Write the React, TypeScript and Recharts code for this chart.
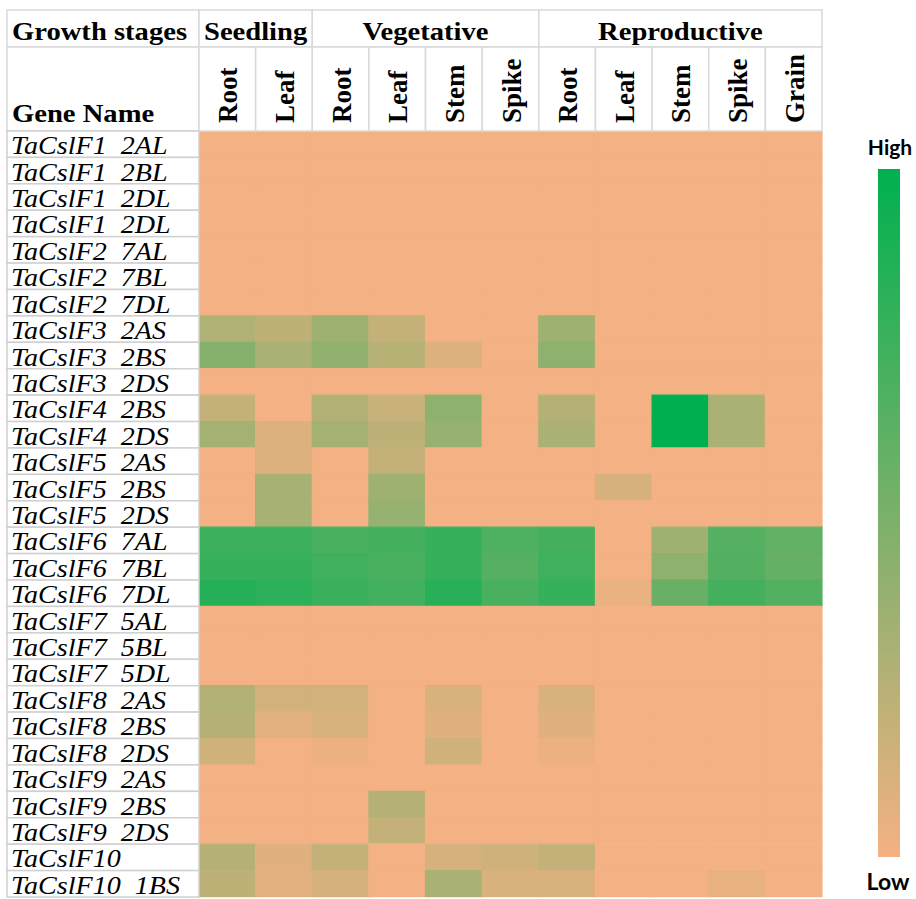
import { BarChart, Bar, XAxis, YAxis, Cell } from 'recharts';

// tissue columns, grouped by growth stage
const tissues = ['Root', 'Leaf', 'Root', 'Leaf', 'Stem', 'Spike', 'Root', 'Leaf', 'Stem', 'Spike', 'Grain'];
const stageNames = ['Seedling', 'Vegetative', 'Reproductive'];
const stageSpans = [2, 4, 5];

const genes = [
  'TaCslF1  2AL', 'TaCslF1  2BL', 'TaCslF1  2DL', 'TaCslF1  2DL',
  'TaCslF2  7AL', 'TaCslF2  7BL', 'TaCslF2  7DL',
  'TaCslF3  2AS', 'TaCslF3  2BS', 'TaCslF3  2DS',
  'TaCslF4  2BS', 'TaCslF4  2DS',
  'TaCslF5  2AS', 'TaCslF5  2BS', 'TaCslF5  2DS',
  'TaCslF6  7AL', 'TaCslF6  7BL', 'TaCslF6  7DL',
  'TaCslF7  5AL', 'TaCslF7  5BL', 'TaCslF7  5DL',
  'TaCslF8  2AS', 'TaCslF8  2BS', 'TaCslF8  2DS',
  'TaCslF9  2AS', 'TaCslF9  2BS', 'TaCslF9  2DS',
  'TaCslF10', 'TaCslF10  1BS',
];

// relative expression 0 (low) .. 1 (high), one row per gene
const expression = [
  [0, 0, 0, 0, 0, 0, 0, 0, 0, 0, 0],
  [0, 0, 0, 0, 0, 0, 0, 0, 0, 0, 0],
  [0, 0, 0, 0, 0, 0, 0, 0, 0, 0, 0],
  [0, 0, 0, 0, 0, 0, 0, 0, 0, 0, 0],
  [0, 0, 0, 0, 0, 0, 0, 0, 0, 0, 0],
  [0, 0, 0, 0, 0, 0, 0, 0, 0, 0, 0],
  [0, 0, 0, 0, 0, 0, 0, 0, 0, 0, 0],
  [0.28, 0.22, 0.35, 0.2, 0, 0, 0.35, 0, 0, 0, 0],
  [0.45, 0.3, 0.4, 0.25, 0.1, 0, 0.42, 0, 0, 0, 0],
  [0, 0, 0, 0, 0, 0, 0, 0, 0, 0, 0],
  [0.2, 0, 0.27, 0.18, 0.42, 0, 0.26, 0, 1, 0.3, 0],
  [0.33, 0.1, 0.33, 0.22, 0.38, 0, 0.3, 0, 1, 0.3, 0],
  [0, 0.1, 0, 0.2, 0, 0, 0, 0, 0, 0, 0],
  [0, 0.32, 0, 0.35, 0, 0, 0, 0.12, 0, 0, 0],
  [0, 0.32, 0, 0.38, 0, 0, 0, 0, 0, 0, 0],
  [0.75, 0.75, 0.7, 0.72, 0.78, 0.68, 0.72, 0, 0.35, 0.65, 0.6],
  [0.78, 0.78, 0.74, 0.7, 0.78, 0.65, 0.74, 0, 0.42, 0.66, 0.58],
  [0.85, 0.82, 0.76, 0.73, 0.84, 0.7, 0.78, 0.04, 0.57, 0.72, 0.66],
  [0, 0, 0, 0, 0, 0, 0, 0, 0, 0, 0],
  [0, 0, 0, 0, 0, 0, 0, 0, 0, 0, 0],
  [0, 0, 0, 0, 0, 0, 0, 0, 0, 0, 0],
  [0.27, 0.14, 0.14, 0, 0.11, 0, 0.11, 0, 0, 0, 0],
  [0.26, 0.07, 0.11, 0, 0.08, 0, 0.08, 0, 0, 0, 0],
  [0.15, 0, 0.03, 0, 0.15, 0, 0.03, 0, 0, 0, 0],
  [0, 0, 0, 0, 0, 0, 0, 0, 0, 0, 0],
  [0, 0, 0, 0.26, 0, 0, 0, 0, 0, 0, 0],
  [0, 0, 0, 0.2, 0, 0, 0, 0, 0, 0, 0],
  [0.26, 0.08, 0.2, 0, 0.12, 0.15, 0.2, 0, 0, 0, 0],
  [0.22, 0.07, 0.13, 0, 0.3, 0.11, 0.11, 0, 0, 0.05, 0],
];

const LOW = [244, 177, 131];
const HIGH = [0, 176, 80];
const colorOf = (v: number) => {
  const c = LOW.map((l, k) => Math.round(l + (HIGH[k] - l) * v));
  return `rgb(${c[0]},${c[1]},${c[2]})`;
};

// every cell is one unit wide, colour carries the value
const data = genes.map((gene) => {
  const row: Record<string, any> = { gene };
  tissues.forEach((_, j) => (row[`c${j}`] = 1));
  return row;
});

const W = 916;
const H = 899;
const margin = { top: 10, right: 94, bottom: 2, left: 7 };
const labelW = 192;
const headH = 121;
const plotW = W - margin.left - margin.right - labelW;
const plotH = H - margin.top - margin.bottom - headH;
const colW = plotW / tissues.length;
const rowH = plotH / genes.length;
const row1Bottom = 47;
const headBottom = margin.top + headH;
const grid = '#D9D9D9';
const serif = '"Liberation Serif", "Times New Roman", serif';

const stageStart = stageSpans.map((_, i) => stageSpans.slice(0, i).reduce((a, b) => a + b, 0));

function HeaderTick(props: any) {
  const { x, payload } = props;
  const idx = Math.round(payload.value - 0.5);
  const left = x - colW / 2;
  const s = stageStart.indexOf(idx);
  return (
    <g>
      {idx === 0 && (
        <g>
          <rect x={margin.left} y={margin.top} width={labelW} height={row1Bottom - margin.top} fill="#fff" stroke={grid} strokeWidth={1.5} />
          <rect x={margin.left} y={row1Bottom} width={labelW} height={headBottom - row1Bottom} fill="#fff" stroke={grid} strokeWidth={1.5} />
          <text transform={`translate(12,40) scale(1.1,1)`} fontFamily={serif} fontWeight="bold" fontSize={26} fill="#000">Growth stages</text>
          <text transform={`translate(12,122) scale(1.1,1)`} fontFamily={serif} fontWeight="bold" fontSize={26} fill="#000">Gene Name</text>
        </g>
      )}
      {s >= 0 && (
        <g>
          <rect x={left} y={margin.top} width={colW * stageSpans[s]} height={row1Bottom - margin.top} fill="#fff" stroke={grid} strokeWidth={1.5} />
          <text transform={`translate(${left + (colW * stageSpans[s]) / 2},40) scale(1.1,1)`} textAnchor="middle" fontFamily={serif} fontWeight="bold" fontSize={26} fill="#000">
            {stageNames[s]}
          </text>
        </g>
      )}
      <rect x={left} y={row1Bottom} width={colW} height={headBottom - row1Bottom} fill="#fff" stroke={grid} strokeWidth={1.5} />
      <text transform={`translate(${x + 10},123) rotate(-90)`} fontFamily={serif} fontWeight="bold" fontSize={27} fill="#000">
        {tissues[idx]}
      </text>
    </g>
  );
}

function GeneTick(props: any) {
  const { y, payload } = props;
  return (
    <g>
      <rect x={margin.left} y={y - rowH / 2} width={labelW} height={rowH} fill="#fff" stroke="#D0D0D0" strokeWidth={1.5} />
      <text transform={`translate(11,${y + 10}) scale(1.08,1)`} style={{ whiteSpace: 'pre' }} fontFamily={serif} fontStyle="italic" fontSize={26} fill="#000">
        {payload.value}
      </text>
    </g>
  );
}

export default function App() {
  return (
    <div style={{ position: 'absolute', left: 0, top: 0, width: W, height: H, background: '#fff' }}>
      <BarChart width={W} height={H} data={data} layout="vertical" margin={margin} barCategoryGap={0} barGap={0}>
        <XAxis
          type="number"
          orientation="top"
          domain={[0, tissues.length]}
          ticks={tissues.map((_, i) => i + 0.5)}
          interval={0}
          height={headH}
          tick={<HeaderTick />}
          tickLine={false}
          axisLine={false}
        />
        <YAxis
          type="category"
          dataKey="gene"
          width={labelW}
          interval={0}
          tick={<GeneTick />}
          tickLine={false}
          axisLine={false}
        />
        {tissues.map((t, j) => (
          <Bar key={j} dataKey={`c${j}`} stackId="cells" isAnimationActive={false}>
            {genes.map((g, i) => (
              <Cell key={i} fill={colorOf(expression[i][j])} stroke={colorOf(expression[i][j])} strokeWidth={1.2} />
            ))}
          </Bar>
        ))}
      </BarChart>
      <svg width={76} height={779} style={{ position: 'absolute', left: 840, top: 120 }}>
        <defs>
          <linearGradient id="scale" x1="0" y1="0" x2="0" y2="1">
            <stop offset="0%" stopColor={colorOf(1)} />
            <stop offset="100%" stopColor={colorOf(0)} />
          </linearGradient>
        </defs>
        <text x={50} y={35} textAnchor="middle" fontFamily="Lato, sans-serif" fontWeight="bold" fontSize={21} fill="#000">High</text>
        <rect x={38} y={49} width={22} height={688} fill="url(#scale)" />
        <text x={48} y={770} textAnchor="middle" fontFamily="Lato, sans-serif" fontWeight="bold" fontSize={23} fill="#000">Low</text>
      </svg>
    </div>
  );
}
